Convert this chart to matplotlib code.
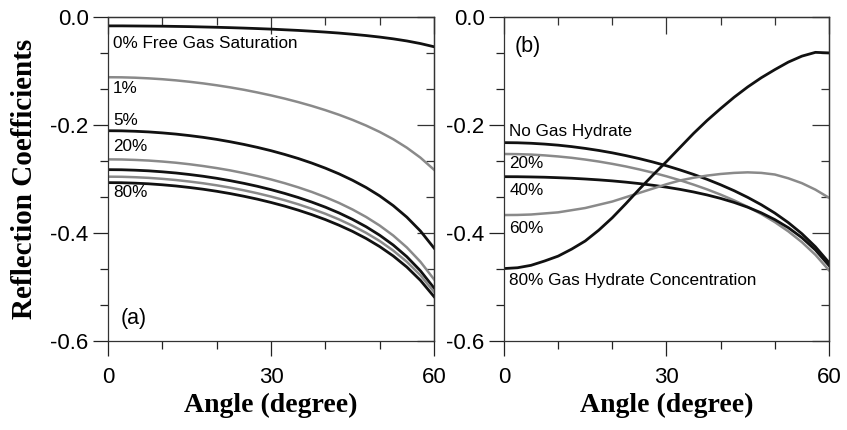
# reflection coefficient vs angle, two panels (a) free gas, (b) gas hydrate

import matplotlib
matplotlib.use("Agg")
import matplotlib.pyplot as plt
from matplotlib.ticker import AutoMinorLocator

plt.rcParams["axes.unicode_minus"] = False
plt.rcParams["font.family"] = "Liberation Sans"

angle = [0, 2.5, 5, 7.5, 10, 12.5, 15, 17.5, 20, 22.5, 25, 27.5, 30,
         32.5, 35, 37.5, 40, 42.5, 45, 47.5, 50, 52.5, 55, 57.5, 60]

# panel (a): free gas saturation curves
gas_0 = [-0.0170, -0.0170, -0.0172, -0.0174, -0.0176, -0.0180, -0.0184,
         -0.0190, -0.0196, -0.0203, -0.0211, -0.0220, -0.0230, -0.0242,
         -0.0254, -0.0269, -0.0285, -0.0303, -0.0325, -0.0349, -0.0377,
         -0.0410, -0.0449, -0.0497, -0.0556]
gas_1 = [-0.1120, -0.1122, -0.1129, -0.1141, -0.1157, -0.1178, -0.1204,
         -0.1234, -0.1269, -0.1308, -0.1352, -0.1402, -0.1456, -0.1515,
         -0.1580, -0.1651, -0.1729, -0.1814, -0.1909, -0.2014, -0.2132,
         -0.2267, -0.2424, -0.2608, -0.2831]
gas_5 = [-0.2110, -0.2112, -0.2120, -0.2132, -0.2150, -0.2172, -0.2200,
         -0.2232, -0.2270, -0.2314, -0.2363, -0.2418, -0.2479, -0.2548,
         -0.2623, -0.2708, -0.2802, -0.2907, -0.3026, -0.3160, -0.3315,
         -0.3496, -0.3709, -0.3965, -0.4280]
gas_20 = [-0.2640, -0.2642, -0.2650, -0.2662, -0.2680, -0.2702, -0.2730,
          -0.2763, -0.2801, -0.2844, -0.2894, -0.2949, -0.3011, -0.3080,
          -0.3157, -0.3242, -0.3338, -0.3445, -0.3567, -0.3705, -0.3864,
          -0.4049, -0.4269, -0.4534, -0.4859]
gas_40 = [-0.2830, -0.2832, -0.2840, -0.2852, -0.2870, -0.2892, -0.2920,
          -0.2952, -0.2990, -0.3034, -0.3083, -0.3138, -0.3200, -0.3269,
          -0.3345, -0.3430, -0.3524, -0.3630, -0.3750, -0.3886, -0.4043,
          -0.4225, -0.4441, -0.4701, -0.5020]
gas_60 = [-0.2960, -0.2962, -0.2970, -0.2982, -0.3000, -0.3022, -0.3050,
          -0.3082, -0.3120, -0.3163, -0.3212, -0.3267, -0.3328, -0.3395,
          -0.3470, -0.3554, -0.3646, -0.3750, -0.3867, -0.3999, -0.4150,
          -0.4327, -0.4534, -0.4784, -0.5089]
gas_80 = [-0.3070, -0.3072, -0.3080, -0.3092, -0.3110, -0.3132, -0.3160,
          -0.3192, -0.3230, -0.3273, -0.3322, -0.3376, -0.3437, -0.3504,
          -0.3579, -0.3662, -0.3754, -0.3857, -0.3972, -0.4103, -0.4253,
          -0.4427, -0.4632, -0.4878, -0.5179]

# panel (b): gas hydrate concentration curves
hyd_0 = [-0.2330, -0.2333, -0.2342, -0.2357, -0.2377, -0.2404, -0.2437,
         -0.2475, -0.2519, -0.2570, -0.2626, -0.2689, -0.2758, -0.2835,
         -0.2918, -0.3009, -0.3110, -0.3220, -0.3343, -0.3479, -0.3633,
         -0.3810, -0.4015, -0.4257, -0.4549]
hyd_20 = [-0.2540, -0.2543, -0.2551, -0.2566, -0.2586, -0.2611, -0.2643,
          -0.2680, -0.2723, -0.2771, -0.2826, -0.2886, -0.2953, -0.3026,
          -0.3107, -0.3195, -0.3292, -0.3399, -0.3518, -0.3651, -0.3800,
          -0.3972, -0.4171, -0.4406, -0.4691]
hyd_40 = [-0.2960, -0.2961, -0.2965, -0.2970, -0.2979, -0.2989, -0.3003,
          -0.3019, -0.3038, -0.3061, -0.3088, -0.3119, -0.3154, -0.3195,
          -0.3243, -0.3298, -0.3362, -0.3437, -0.3525, -0.3629, -0.3754,
          -0.3904, -0.4088, -0.4316, -0.4603]
hyd_60 = [-0.367, -0.3668, -0.366, -0.364, -0.362, -0.358, -0.354, -0.348,
          -0.342, -0.334, -0.326, -0.318, -0.310, -0.303, -0.298, -0.294,
          -0.291, -0.289, -0.288, -0.289, -0.292, -0.299, -0.308, -0.320,
          -0.335]
hyd_80 = [-0.466, -0.4645, -0.460, -0.452, -0.443, -0.430, -0.415, -0.395,
          -0.372, -0.346, -0.319, -0.293, -0.268, -0.242, -0.216, -0.192,
          -0.170, -0.149, -0.130, -0.113, -0.098, -0.084, -0.073, -0.066,
          -0.067]

BLACK = "#111111"
GRAY = "#8a8a8a"


def style_axes(ax):
    ax.set_xlim(0, 60)
    ax.set_ylim(-0.6, 0.0)
    ax.set_xticks([0, 30, 60])
    ax.set_yticks([0.0, -0.2, -0.4, -0.6])
    ax.set_yticklabels(["0.0", "-0.2", "-0.4", "-0.6"])
    ax.xaxis.set_minor_locator(AutoMinorLocator(3))
    ax.yaxis.set_minor_locator(AutoMinorLocator(3))
    ax.tick_params(which="both", direction="out", top=False, right=False,
                   labelsize=16, width=0.9, colors="#222222",
                   labelcolor="black")
    ax.tick_params(axis="x", which="major", length=11, pad=8)
    ax.tick_params(axis="y", which="major", length=11, pad=3)
    ax.tick_params(which="minor", length=6)
    for sp in ax.spines.values():
        sp.set_linewidth(0.9)
        sp.set_color("#333333")
    # inward ticks on top and right
    top = ax.secondary_xaxis("top")
    top.set_xticks([0, 30, 60])
    top.xaxis.set_minor_locator(AutoMinorLocator(3))
    top.tick_params(which="both", direction="in", labeltop=False,
                    width=0.9, colors="#333333")
    top.tick_params(which="major", length=12)
    top.tick_params(which="minor", length=6)
    right = ax.secondary_yaxis("right")
    right.set_yticks([0.0, -0.2, -0.4, -0.6])
    right.yaxis.set_minor_locator(AutoMinorLocator(3))
    right.tick_params(which="both", direction="in", labelright=False,
                      width=0.9, colors="#333333")
    right.tick_params(which="major", length=12)
    right.tick_params(which="minor", length=6)
    for sec in (top, right):
        for sp in sec.spines.values():
            sp.set_linewidth(0.9)
            sp.set_color("#333333")
    ax.set_xlabel("Angle (degree)", family="Liberation Serif",
                  fontweight="bold", fontsize=20, labelpad=3)


fig = plt.figure(figsize=(8.47, 4.30), dpi=100)
ax_a = fig.add_axes([0.1275, 0.207, 0.3849, 0.7542])
ax_b = fig.add_axes([0.595, 0.207, 0.3837, 0.7542])

# (a)
ax_a.plot(angle, gas_0, color=BLACK, lw=2.0)
ax_a.plot(angle, gas_1, color=GRAY, lw=1.8)
ax_a.plot(angle, gas_5, color=BLACK, lw=2.0)
ax_a.plot(angle, gas_20, color=GRAY, lw=1.8)
ax_a.plot(angle, gas_40, color=BLACK, lw=2.0)
ax_a.plot(angle, gas_60, color=GRAY, lw=1.8)
ax_a.plot(angle, gas_80, color=BLACK, lw=2.0)
ax_a.text(0.9, -0.05, "0% Free Gas Saturation", fontsize=12.3, va="center")
ax_a.text(0.9, -0.133, "1%", fontsize=12.3, va="center")
ax_a.text(0.9, -0.192, "5%", fontsize=12.3, va="center")
ax_a.text(0.9, -0.241, "20%", fontsize=12.3, va="center")
ax_a.text(0.9, -0.326, "80%", fontsize=12.3, va="center")
ax_a.text(4.7, -0.558, "(a)", fontsize=15.5, ha="center", va="center")
style_axes(ax_a)
ax_a.set_ylabel("Reflection Coefficients", family="Liberation Serif",
                fontweight="bold", fontsize=21, labelpad=9)

# (b)
ax_b.plot(angle, hyd_0, color=BLACK, lw=2.0)
ax_b.plot(angle, hyd_20, color=GRAY, lw=1.8)
ax_b.plot(angle, hyd_40, color=BLACK, lw=2.0)
ax_b.plot(angle, hyd_60, color=GRAY, lw=1.8)
ax_b.plot(angle, hyd_80, color=BLACK, lw=2.0)
ax_b.text(4.4, -0.056, "(b)", fontsize=15.5, ha="center", va="center")
ax_b.text(1.0, -0.212, "No Gas Hydrate", fontsize=12.3, va="center")
ax_b.text(1.0, -0.271, "20%", fontsize=12.3, va="center")
ax_b.text(1.0, -0.321, "40%", fontsize=12.3, va="center")
ax_b.text(1.0, -0.392, "60%", fontsize=12.3, va="center")
ax_b.text(1.0, -0.488, "80% Gas Hydrate Concentration", fontsize=12.3,
          va="center")
style_axes(ax_b)

fig.savefig("out.png", dpi=100)
